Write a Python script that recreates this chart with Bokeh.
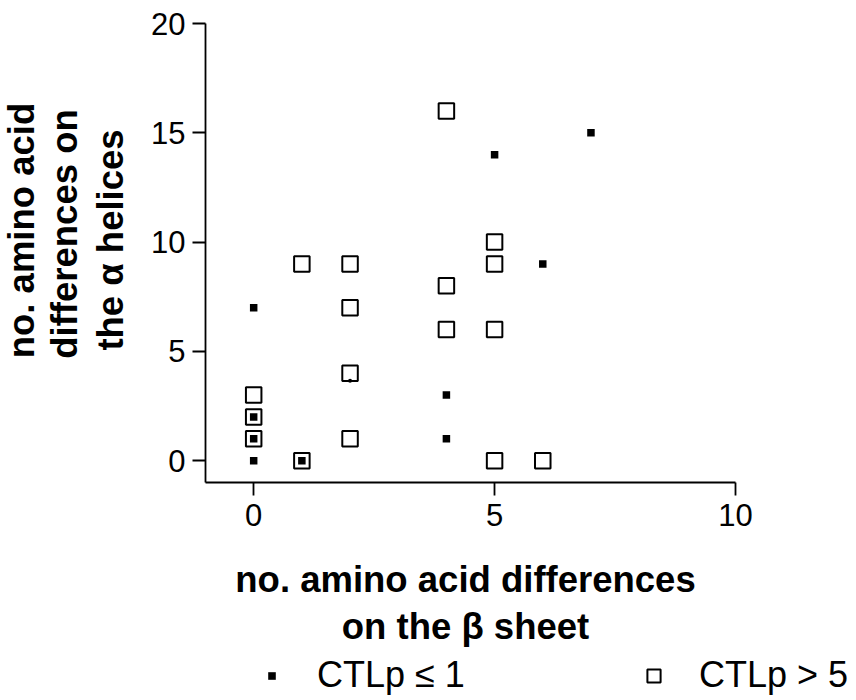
import math
import numpy as np
from bokeh.plotting import figure
from bokeh.layouts import column, row
from bokeh.models import FixedTicker, Label, Legend, LegendItem, Range1d
from bokeh.embed import file_html
from bokeh.resources import INLINE

# ---- data ----
lo_x = [0, 0, 0, 0, 1, 4, 4, 5, 6, 7]            # CTLp <= 1 (filled squares)
lo_y = [0, 1, 2, 7, 0, 1, 3, 14, 9, 15]
hi_x = [0, 0, 0, 1, 1, 2, 2, 2, 2, 4, 4, 4, 5, 5, 5, 5, 6]   # CTLp > 5 (open squares)
hi_y = [1, 2, 3, 0, 9, 9, 7, 4, 1, 16, 8, 6, 10, 9, 6, 0, 0]
dot_x = [2]                                       # small stray dot
dot_y = [3.65]
x_ticks = [0, 5, 10]
y_ticks = [0, 5, 10, 15, 20]
x_title = ["no. amino acid differences", "on the \u03b2 sheet"]
y_title = ["no. amino acid", "differences on", "the \u03b1 helices"]
legend_labels = ["CTLp \u2264 1", "CTLp > 5"]

FONT = "Liberation Sans"
TITLE_SIZE = "36.5px"

# ---- main plot ----
p = figure(width=721, height=552, output_backend="svg", toolbar_location=None,
           x_range=Range1d(-1, 10), y_range=Range1d(-1, 20),
           min_border_left=70, min_border_right=121,
           min_border_top=23, min_border_bottom=70)
p.xgrid.visible = False
p.ygrid.visible = False
p.outline_line_color = None

p.xaxis.ticker = FixedTicker(ticks=x_ticks)
p.yaxis.ticker = FixedTicker(ticks=y_ticks)
for ax in (p.xaxis[0], p.yaxis[0]):
    ax.axis_line_width = 1.8
    ax.axis_line_color = "black"
    ax.major_tick_line_width = 1.8
    ax.major_tick_line_color = "black"
    ax.major_tick_out = 13
    ax.major_tick_in = 0
    ax.minor_tick_out = 0
    ax.minor_tick_in = 0
    ax.major_label_text_font = FONT
    ax.major_label_text_font_size = "31px"
    ax.major_label_text_color = "black"
p.xaxis.major_label_standoff = 8
p.yaxis.major_label_standoff = 7

r_hi = p.scatter(hi_x, hi_y, marker="square", size=15.5, fill_color="white",
                 line_color="black", line_width=2)
r_lo = p.scatter(lo_x, lo_y, marker="square", size=7.5, fill_color="black",
                 line_color=None)
p.scatter(dot_x, dot_y, marker="circle", size=4, fill_color="black", line_color=None)

# ---- left strip: y-axis title ----
lf = figure(width=135, height=552, output_backend="svg", toolbar_location=None,
            x_axis_type=None, y_axis_type=None, x_range=Range1d(0, 1), y_range=Range1d(0, 1),
            min_border=0, outline_line_color=None)
y_pos = [(21, 252), (64, 248.5), (110, 242.5)]
for t, (sx, sy) in zip(y_title, y_pos):
    lf.add_layout(Label(x=sx, y=sy, x_units="screen", y_units="screen",
                        text=t, text_align="center", text_baseline="alphabetic",
                        angle=math.pi / 2,
                        text_font=FONT, text_font_size=TITLE_SIZE, text_font_style="bold",
                        text_color="black"))

# ---- bottom strip: x-axis title and legend ----
bf = figure(width=856, height=148, output_backend="svg", toolbar_location=None,
            x_axis_type=None, y_axis_type=None, x_range=Range1d(0, 1), y_range=Range1d(0, 1),
            min_border=0, outline_line_color=None)
for t, sy in zip(x_title, [121, 74]):
    bf.add_layout(Label(x=465, y=sy, x_units="screen", y_units="screen",
                        text=t, text_align="center", text_baseline="alphabetic",
                        text_font=FONT, text_font_size=TITLE_SIZE, text_font_style="bold",
                        text_color="black"))

# legend proxies (no visible points, only used for the legend swatches)
nan = np.array([np.nan])
lg_lo = bf.scatter(nan, nan, marker="square", fill_color="black", line_color=None)
lg_hi = bf.scatter(nan, nan, marker="square", fill_color="white", line_color="black",
                   line_width=2)

def make_legend(label, rend, loc, gw, standoff):
    return Legend(items=[LegendItem(label=label, renderers=[rend])], location=loc,
                  glyph_width=gw, glyph_height=37, label_height=37,
                  label_standoff=standoff, padding=0, margin=0, spacing=0,
                  border_line_color=None, background_fill_alpha=0,
                  label_text_font=FONT, label_text_font_size="36px",
                  label_text_color="black")

bf.add_layout(make_legend(legend_labels[0], lg_lo, (262, 4), 19, 36))
bf.add_layout(make_legend(legend_labels[1], lg_hi, (637, 4), 33, 29))

layout = column(row(lf, p), bf)
open("out.html", "w").write(file_html(layout, INLINE))
